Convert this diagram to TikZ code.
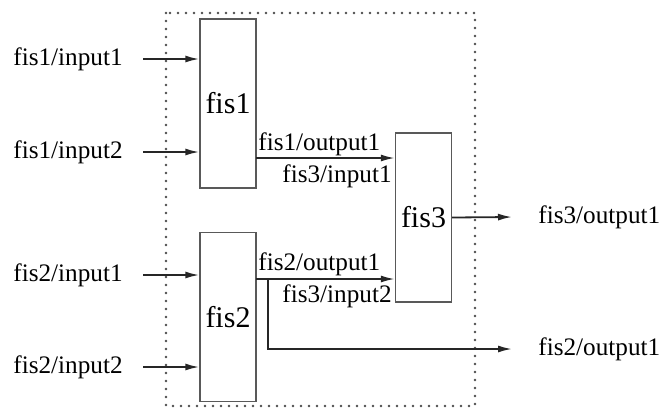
\documentclass[tikz,border=0pt]{standalone}
\usepackage{fontspec}
\setmainfont{Liberation Serif}
\usetikzlibrary{arrows.meta, positioning, calc}

\begin{document}
\begin{tikzpicture}[
		x=0.5pt, y=-0.5pt,
		fis/.style={draw=gray!70!black, line width=0.7pt, rectangle, minimum width=28pt, minimum height=84.5pt, inner sep=0pt, font=\fontsize{15}{17}\selectfont},
		lbl/.style={inner sep=0pt, font=\fontsize{12.6}{14}\selectfont},
		arr/.style={-{Latex[length=7pt,width=3.5pt]}, line width=0.9pt, black!85},
	]
	\useasboundingbox (0,0) rectangle (665,409);

	% -- the system frame --
	\draw[line width=1.4pt, line cap=round, dash pattern=on 0pt off 4pt, black!70] (166,13) rectangle (475,406);

	% -- all blocks --
	\node [fis] (fis1) at (228,103.5) {fis1};
	\node [fis] (fis2) at (228,317) {fis2};
	\node [fis] (fis3) at (423.5,217.5) {fis3};

	% -- inputs --
	\node [lbl,anchor=east] (i11) at (123,59) {fis1/input1};
	\node [lbl,anchor=east] (i12) at (123,152) {fis1/input2};
	\node [lbl,anchor=east] (i21) at (123,275) {fis2/input1};
	\node [lbl,anchor=east] (i22) at (123,367) {fis2/input2};

	\draw[arr] ([xshift=10pt]i11.east) -- (i11.east -| fis1.west);
	\draw[arr] ([xshift=10pt]i12.east) -- (i12.east -| fis1.west);
	\draw[arr] ([xshift=10pt]i21.east) -- (i21.east -| fis2.west);
	\draw[arr] ([xshift=10pt]i22.east) -- (i22.east -| fis2.west);

	% -- inner links --
	\coordinate (p13) at (256,158);
	\coordinate (p23) at (256,279);
	\coordinate (br) at (268,279);

	\draw[arr] (p13) -- (p13 -| fis3.west);
	\node [lbl,anchor=base west] (o11) at (258,150) {fis1/output1};
	\node [lbl,anchor=base east] (in31) at (392,182) {fis3/input1};

	\draw[arr] (p23) -- (p23 -| fis3.west);
	\node [lbl,anchor=base west] (o21) at (258,270) {fis2/output1};
	\node [lbl,anchor=base east] (in32) at (392,302) {fis3/input2};

	% -- outputs --
	\node [lbl,anchor=west] (o31) at (538,217) {fis3/output1};
	\node [lbl,anchor=west] (o22) at (538,349) {fis2/output1};

	\draw[arr] (fis3.east) -- ([xshift=-13pt]o31.west);
	\draw[arr] (br) |- ([xshift=-13pt]o22.west);
\end{tikzpicture}
\end{document}
